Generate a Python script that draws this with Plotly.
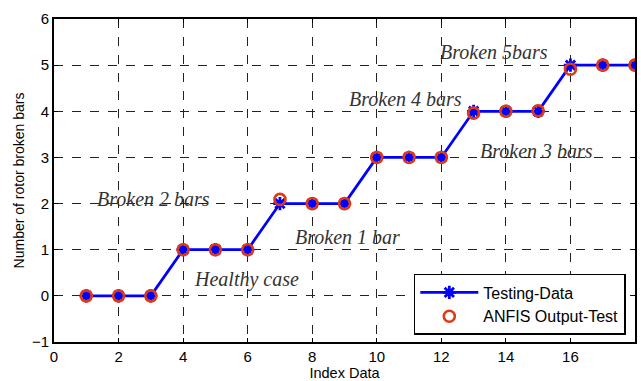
import plotly.graph_objects as go

# Test sample index and class labels (number of broken rotor bars)
index_data = list(range(1, 19))
testing_data = [0, 0, 0, 1, 1, 1, 2, 2, 2, 3, 3, 3, 4, 4, 4, 5, 5, 5]
anfis_output = [0, 0, 0, 1, 1, 1, 2.09, 2, 2, 3, 3, 3, 3.96, 4, 4.01, 4.91, 5, 5]

# Case labels and where they sit in data coordinates
case_labels = ["Healthy case", "Broken 1 bar", "Broken 2 bars",
               "Broken 3 bars", "Broken 4 bars", "Broken 5bars"]
label_x = [5.95, 9.08, 3.07, 14.96, 10.9, 13.63]
label_y = [0.35, 1.28, 2.09, 3.13, 4.26, 5.28]

x_ticks = list(range(0, 19, 2))
y_ticks = list(range(-1, 7))

fig = go.Figure()

fig.add_trace(go.Scatter(
    x=index_data, y=testing_data, mode="lines+markers", name="Testing-Data",
    line=dict(color="#0000ff", width=2.8),
    marker=dict(symbol="asterisk-open", size=11, color="#0000ff",
                line=dict(color="#0000ff", width=2.8)),
))
fig.add_trace(go.Scatter(
    x=index_data, y=anfis_output, mode="markers", name="ANFIS Output-Test",
    marker=dict(symbol="circle-open", size=11, color="#e03a10",
                line=dict(color="#e03a10", width=2.6)),
))

for txt, lx, ly in zip(case_labels, label_x, label_y):
    fig.add_annotation(
        x=lx, y=ly, text=txt, showarrow=False,
        font=dict(family="Liberation Serif", size=20, color="#333333", style="italic"),
        xanchor="center", yanchor="middle",
    )

axis_common = dict(
    showline=True, linecolor="black", linewidth=1.6, mirror="ticks",
    ticks="inside", ticklen=4, tickcolor="black",
    showgrid=True, gridcolor="#222222", gridwidth=1, griddash="dash",
    zeroline=False, automargin=False,
    tickfont=dict(family="Liberation Sans", size=15, color="black"),
)

fig.update_xaxes(
    range=[0, 18], tickvals=x_ticks,
    title=dict(text="Index Data", standoff=0,
               font=dict(family="Liberation Sans", size=14.5, color="black")),
    **axis_common,
)
fig.update_yaxes(
    range=[-1, 6], tickvals=y_ticks,
    title=dict(text="Number of rotor broken bars", standoff=4,
               font=dict(family="Liberation Sans", size=14, color="black")),
    **axis_common,
)

fig.update_layout(
    width=641, height=381,
    margin=dict(l=54, r=6, t=19, b=39),
    paper_bgcolor="white", plot_bgcolor="white",
    legend=dict(
        x=0.984, y=0.022, xanchor="right", yanchor="bottom",
        bgcolor="white", bordercolor="black", borderwidth=1.6,
        font=dict(family="Liberation Sans", size=16, color="black"),
        itemwidth=58, tracegroupgap=0,
    ),
)

fig.write_html("out.html")
